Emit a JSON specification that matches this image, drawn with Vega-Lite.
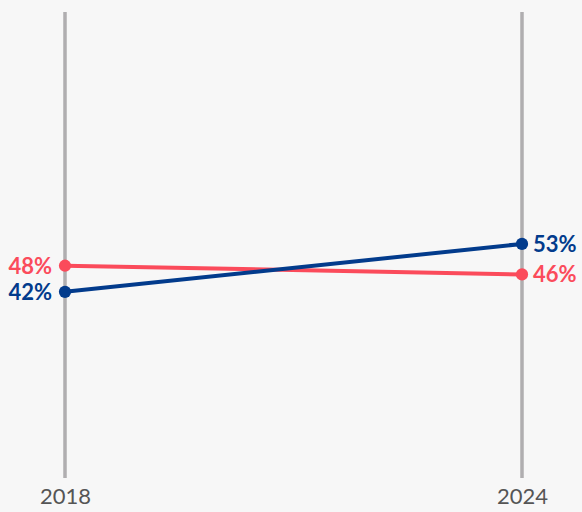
{
  "$schema": "https://vega.github.io/schema/vega-lite/v6.json",
  "width": 457,
  "height": 466,
  "autosize": {"type": "none"},
  "padding": {"left": 65, "top": 12, "right": 60, "bottom": 34},
  "background": "#f7f7f7",
  "config": {
    "view": {"stroke": null},
    "font": "Lato"
  },
  "data": {
    "values": [
      {"year": "2018", "series": "A", "value": 48},
      {"year": "2024", "series": "A", "value": 46},
      {"year": "2018", "series": "B", "value": 42},
      {"year": "2024", "series": "B", "value": 53}
    ]
  },
  "encoding": {
    "x": {
      "field": "year",
      "type": "ordinal",
      "scale": {"type": "point", "padding": 0},
      "axis": {
        "title": null,
        "domain": false,
        "ticks": false,
        "labelAngle": 0,
        "labelFontSize": 22,
        "labelColor": "#555555",
        "labelPadding": 8,
        "labelFont": "Lato"
      }
    }
  },
  "layer": [
    {
      "mark": {"type": "rule", "color": "#b0aeb0", "strokeWidth": 3},
      "encoding": {}
    },
    {
      "mark": {"type": "line", "strokeWidth": 4},
      "encoding": {
        "y": {"field": "value", "type": "quantitative", "scale": {"domain": [-0.7, 106.2], "nice": false, "zero": false}, "axis": null},
        "color": {"field": "series", "type": "nominal", "scale": {"domain": ["A", "B"], "range": ["#fb4b5b", "#023b8c"]}, "legend": null}
      }
    },
    {
      "mark": {"type": "point", "filled": true, "opacity": 1, "size": 150},
      "encoding": {
        "y": {"field": "value", "type": "quantitative"},
        "color": {"field": "series", "type": "nominal"}
      }
    },
    {
      "transform": [{"filter": "datum.year == '2018'"}, {"calculate": "datum.value + '%'", "as": "lbl"}],
      "mark": {"type": "text", "align": "right", "baseline": "middle", "dx": -13, "dy": 1, "fontSize": 22, "fontWeight": "bold", "font": "Lato"},
      "encoding": {
        "y": {"field": "value", "type": "quantitative"},
        "text": {"field": "lbl", "type": "nominal"},
        "color": {"field": "series", "type": "nominal"}
      }
    },
    {
      "transform": [{"filter": "datum.year == '2024'"}, {"calculate": "datum.value + '%'", "as": "lbl"}],
      "mark": {"type": "text", "align": "left", "baseline": "middle", "dx": 11, "dy": 1, "fontSize": 22, "fontWeight": "bold", "font": "Lato"},
      "encoding": {
        "y": {"field": "value", "type": "quantitative"},
        "text": {"field": "lbl", "type": "nominal"},
        "color": {"field": "series", "type": "nominal"}
      }
    }
  ]
}
